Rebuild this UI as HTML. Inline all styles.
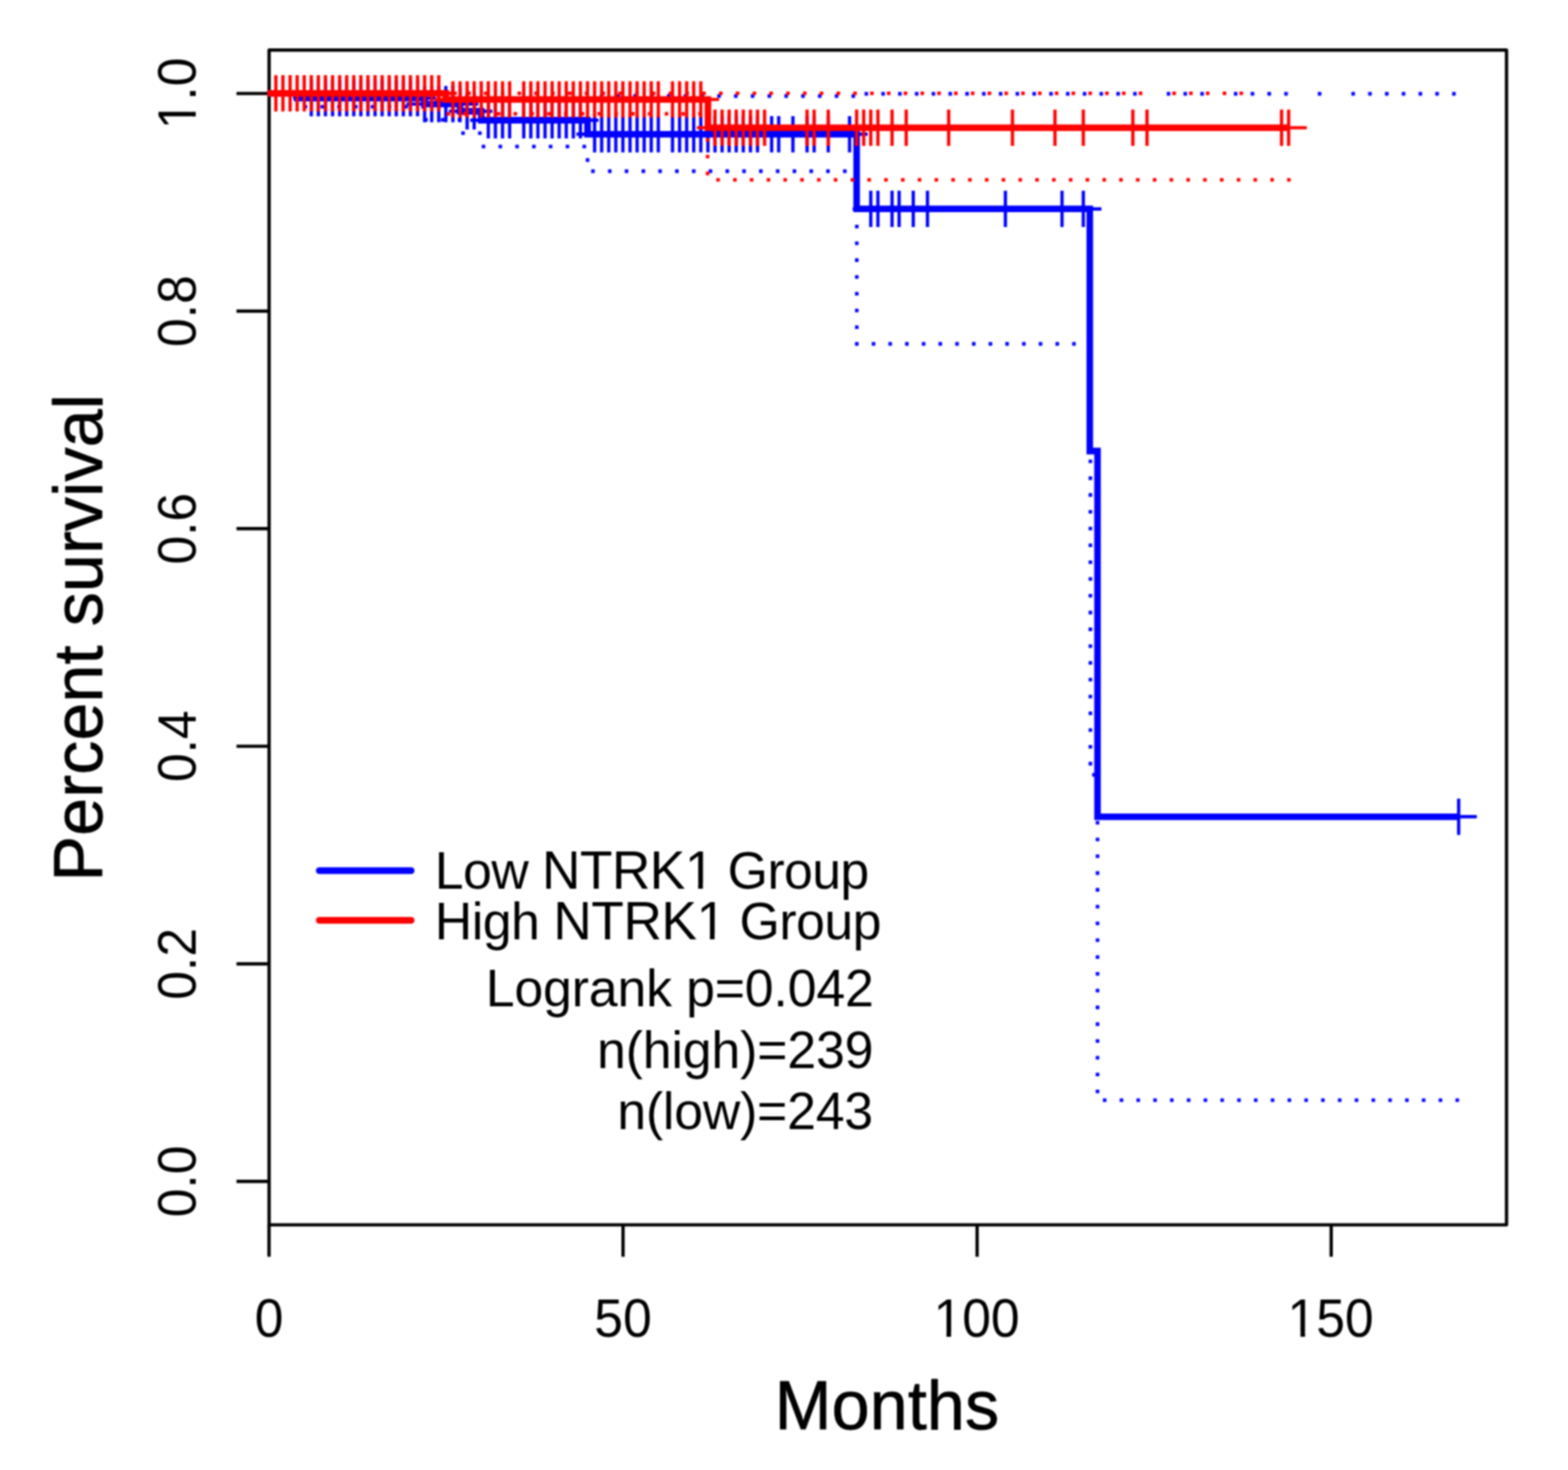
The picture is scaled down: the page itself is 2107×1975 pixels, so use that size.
<!DOCTYPE html>
<html lang="en"><head><meta charset="utf-8"><title>Kaplan-Meier survival: NTRK1</title>
<style>
html,body{margin:0;padding:0;background:#fff;}
body{width:2107px;height:1975px;overflow:hidden;}
svg{display:block;filter:blur(1.0px);}
text{font-family:"Liberation Sans",Arial,Helvetica,sans-serif;fill:#000;}
.t{font-size:73.1px;}
.g{font-size:69.6px;letter-spacing:-0.75px;}
.l{font-size:91.6px;letter-spacing:0.2px;stroke:#000;stroke-width:0.9px;stroke-linejoin:round;}
.c{font-size:103.0%;}
.ax{stroke:#000;stroke-width:4.4;fill:none;stroke-linecap:round;stroke-linejoin:round;}
.cv{fill:none;stroke-width:8.8;stroke-linejoin:miter;stroke-linecap:butt;}
.pl{fill:none;stroke-width:4.4;stroke-linecap:butt;}
.ci{fill:none;stroke-width:4.8;stroke-linecap:butt;}
.lg{fill:none;stroke-width:9;stroke-linecap:round;}
.b{stroke:#0000ff;}.r{stroke:#ff0000;}
</style></head><body>
<svg width="2107" height="1975" viewBox="0 0 2107 1975">
<rect x="-20" y="-20" width="2147" height="2015" fill="#fff"/>
<defs><clipPath id="pc"><rect x="359.4" y="65.0" width="1667.2" height="1582.8"/></clipPath></defs>
<g id="axes">
<rect class="ax" x="361.6" y="67.2" width="1662.8" height="1578.4"/>
<path class="ax" style="stroke-linecap:butt" d="M361.5 1645.6V1688.6M837.2 1645.6V1688.6M1313.0 1645.6V1688.6M1788.8 1645.6V1688.6M361.6 1587.3H317.8M361.6 1295.0H317.8M361.6 1002.6H317.8M361.6 710.3H317.8M361.6 418.0H317.8M361.6 125.6H317.8"/>
</g>
<g id="plot" clip-path="url(#pc)">
<path class="ci b" d="M408.0 143.3h4.8M430.6 143.3h4.8M453.1 143.3h4.8M475.7 143.3h4.8M498.2 143.3h4.8M520.8 143.3h4.8M543.4 143.3h4.8M565.9 143.3h4.8M569.9 161.0h4.8M592.5 161.0h4.8M615.0 161.0h4.8M619.8 178.8h4.8M642.4 178.8h4.8M647.3 196.8h4.8M669.9 196.8h4.8M692.4 196.8h4.8M715.0 196.8h4.8M737.5 196.8h4.8M760.1 196.8h4.8M782.7 196.8h4.8M794.4 230.0h4.8M817.0 230.0h4.8M839.5 230.0h4.8M862.1 230.0h4.8M884.6 230.0h4.8M907.2 230.0h4.8M929.8 230.0h4.8M952.3 230.0h4.8M974.9 230.0h4.8M997.4 230.0h4.8M1020.0 230.0h4.8M1042.6 230.0h4.8M1065.1 230.0h4.8M1087.7 230.0h4.8M1110.2 230.0h4.8M1132.8 230.0h4.8M1148.9 462.0h4.8M1171.4 462.0h4.8M1193.8 462.0h4.8M1216.2 462.0h4.8M1238.7 462.0h4.8M1261.1 462.0h4.8M1283.6 462.0h4.8M1306.1 462.0h4.8M1328.5 462.0h4.8M1350.9 462.0h4.8M1373.4 462.0h4.8M1395.8 462.0h4.8M1418.3 462.0h4.8M1440.7 462.0h4.8M1482.0 1478.1h4.8M1504.6 1478.1h4.8M1527.1 1478.1h4.8M1549.7 1478.1h4.8M1572.2 1478.1h4.8M1594.8 1478.1h4.8M1617.4 1478.1h4.8M1639.9 1478.1h4.8M1662.5 1478.1h4.8M1685.0 1478.1h4.8M1707.6 1478.1h4.8M1730.2 1478.1h4.8M1752.7 1478.1h4.8M1775.3 1478.1h4.8M1797.8 1478.1h4.8M1820.4 1478.1h4.8M1843.0 1478.1h4.8M1865.5 1478.1h4.8M1888.1 1478.1h4.8M1910.6 1478.1h4.8M1933.2 1478.1h4.8M1955.8 1478.1h4.8M805.8 129.0h4.8M828.4 129.0h4.8M851.0 129.0h4.8M873.5 129.0h4.8M896.1 129.0h4.8M918.6 129.0h4.8M941.2 129.0h4.8M963.8 129.0h4.8M986.3 129.0h4.8M1008.9 129.0h4.8M1031.4 129.0h4.8M1054.0 129.0h4.8M1076.6 129.0h4.8M1099.1 129.0h4.8M1121.7 129.0h4.8M1144.2 129.0h4.8M1161.7 126.0h4.8M1184.3 126.0h4.8M1206.8 126.0h4.8M1229.4 126.0h4.8M1251.9 126.0h4.8M1274.5 126.0h4.8M1297.1 126.0h4.8M1319.6 126.0h4.8M1342.2 126.0h4.8M1364.7 126.0h4.8M1387.3 126.0h4.8M1409.9 126.0h4.8M1432.4 126.0h4.8M1455.0 126.0h4.8M1477.5 126.0h4.8M1500.1 126.0h4.8M1522.7 126.0h4.8M1567.8 126.0h4.8M1590.3 126.0h4.8M1612.9 126.0h4.8M1658.0 126.0h4.8M1680.6 126.0h4.8M1703.1 126.0h4.8M1725.7 126.0h4.8M1770.8 126.0h4.8M1815.9 126.0h4.8M1838.5 126.0h4.8M1861.1 126.0h4.8M1883.6 126.0h4.8M1906.2 126.0h4.8M1928.7 126.0h4.8M1951.3 126.0h4.8M789.5 212.6v4.8M1151.3 234.3v4.8M1151.3 256.9v4.8M1151.3 279.4v4.8M1151.3 302.0v4.8M1151.3 324.5v4.8M1151.3 347.1v4.8M1151.3 369.7v4.8M1151.3 392.2v4.8M1151.3 414.8v4.8M1151.3 437.3v4.8M1465.2 482.2v4.8M1465.2 504.7v4.8M1465.2 527.3v4.8M1465.2 549.8v4.8M1465.2 572.4v4.8M1465.2 595.0v4.8M1465.2 617.5v4.8M1465.2 640.1v4.8M1465.2 662.6v4.8M1465.2 685.2v4.8M1465.2 707.8v4.8M1465.2 730.3v4.8M1465.2 752.9v4.8M1465.2 775.4v4.8M1465.2 798.0v4.8M1465.2 820.6v4.8M1465.2 843.1v4.8M1465.2 865.7v4.8M1465.2 888.2v4.8M1465.2 910.8v4.8M1465.2 933.4v4.8M1465.2 955.9v4.8M1465.2 978.5v4.8M1465.2 1001.0v4.8M1465.2 1023.6v4.8M1470.0 1038.6v4.8M1474.8 1102.9v4.8M1474.8 1125.5v4.8M1474.8 1148.0v4.8M1474.8 1170.6v4.8M1474.8 1193.1v4.8M1474.8 1215.7v4.8M1474.8 1238.3v4.8M1474.8 1260.8v4.8M1474.8 1283.4v4.8M1474.8 1305.9v4.8M1474.8 1328.5v4.8M1474.8 1351.1v4.8M1474.8 1373.6v4.8M1474.8 1396.2v4.8M1474.8 1418.7v4.8M1474.8 1441.3v4.8M1474.8 1463.9v4.8"/>
<path class="cv b" d="M359.4 125.4H399.3V131.8H570.6V139.8H618.2V149.5H646.7V161.5H789.5V180.3H1151.1V280.7H1464.4V606.0H1474.8V1097.3H1960.1"/>
<path class="pl b" d="M418.3 107.4v48.8M393.9 131.8h48.8M427.8 107.4v48.8M403.4 131.8h48.8M437.3 107.4v48.8M412.9 131.8h48.8M446.9 107.4v48.8M422.5 131.8h48.8M456.4 107.4v48.8M432.0 131.8h48.8M465.9 107.4v48.8M441.5 131.8h48.8M475.4 107.4v48.8M451.0 131.8h48.8M484.9 107.4v48.8M460.5 131.8h48.8M494.4 107.4v48.8M470.0 131.8h48.8M504.0 107.4v48.8M479.6 131.8h48.8M513.5 107.4v48.8M489.1 131.8h48.8M523.0 107.4v48.8M498.6 131.8h48.8M532.5 107.4v48.8M508.1 131.8h48.8M542.0 107.4v48.8M517.6 131.8h48.8M551.5 107.4v48.8M527.1 131.8h48.8M561.1 107.4v48.8M536.7 131.8h48.8M570.6 115.4v48.8M546.2 139.8h48.8M580.1 115.4v48.8M555.7 139.8h48.8M589.6 115.4v48.8M565.2 139.8h48.8M599.1 115.4v48.8M574.7 139.8h48.8M608.6 115.4v48.8M584.2 139.8h48.8M618.2 115.4v48.8M593.8 139.8h48.8M627.7 125.1v48.8M603.3 149.5h48.8M637.2 125.1v48.8M612.8 149.5h48.8M656.2 137.1v48.8M631.8 161.5h48.8M665.7 137.1v48.8M641.3 161.5h48.8M675.3 137.1v48.8M650.9 161.5h48.8M684.8 137.1v48.8M660.4 161.5h48.8M703.8 137.1v48.8M679.4 161.5h48.8M713.3 137.1v48.8M688.9 161.5h48.8M722.8 137.1v48.8M698.4 161.5h48.8M732.4 137.1v48.8M708.0 161.5h48.8M741.9 137.1v48.8M717.5 161.5h48.8M751.4 137.1v48.8M727.0 161.5h48.8M760.9 137.1v48.8M736.5 161.5h48.8M770.4 137.1v48.8M746.0 161.5h48.8M779.9 137.1v48.8M755.5 161.5h48.8M799.0 155.9v48.8M774.6 180.3h48.8M808.5 155.9v48.8M784.1 180.3h48.8M818.0 155.9v48.8M793.6 180.3h48.8M827.5 155.9v48.8M803.1 180.3h48.8M837.0 155.9v48.8M812.6 180.3h48.8M846.6 155.9v48.8M822.2 180.3h48.8M856.1 155.9v48.8M831.7 180.3h48.8M865.6 155.9v48.8M841.2 180.3h48.8M875.1 155.9v48.8M850.7 180.3h48.8M884.6 155.9v48.8M860.2 180.3h48.8M903.7 155.9v48.8M879.3 180.3h48.8M913.2 155.9v48.8M888.8 180.3h48.8M922.7 155.9v48.8M898.3 180.3h48.8M932.2 155.9v48.8M907.8 180.3h48.8M941.7 155.9v48.8M917.3 180.3h48.8M951.3 155.9v48.8M926.9 180.3h48.8M960.8 155.9v48.8M936.4 180.3h48.8M970.3 155.9v48.8M945.9 180.3h48.8M979.8 155.9v48.8M955.4 180.3h48.8M989.3 155.9v48.8M964.9 180.3h48.8M998.8 155.9v48.8M974.4 180.3h48.8M1008.4 155.9v48.8M984.0 180.3h48.8M1017.9 155.9v48.8M993.5 180.3h48.8M1036.9 155.9v48.8M1012.5 180.3h48.8M1046.4 155.9v48.8M1022.0 180.3h48.8M1065.5 155.9v48.8M1041.1 180.3h48.8M1084.5 155.9v48.8M1060.1 180.3h48.8M1094.0 155.9v48.8M1069.6 180.3h48.8M1113.0 155.9v48.8M1088.6 180.3h48.8M1141.6 155.9v48.8M1117.2 180.3h48.8M1170.1 256.3v48.8M1145.7 280.7h48.8M1179.7 256.3v48.8M1155.3 280.7h48.8M1198.7 256.3v48.8M1174.3 280.7h48.8M1208.2 256.3v48.8M1183.8 280.7h48.8M1227.2 256.3v48.8M1202.8 280.7h48.8M1246.3 256.3v48.8M1221.9 280.7h48.8M1351.0 256.3v48.8M1326.6 280.7h48.8M1427.1 256.3v48.8M1402.7 280.7h48.8M1455.7 256.3v48.8M1431.3 280.7h48.8M1960.1 1072.9v48.8M1935.7 1097.3h48.8"/>
<path class="ci r" d="M605.2 125.4h4.8M627.8 125.4h4.8M650.3 125.4h4.8M672.9 125.4h4.8M695.4 125.4h4.8M718.0 125.4h4.8M740.6 125.4h4.8M763.1 125.4h4.8M785.7 125.4h4.8M808.2 125.4h4.8M830.8 125.4h4.8M853.4 125.4h4.8M875.9 125.4h4.8M898.5 125.4h4.8M921.0 125.4h4.8M943.6 125.4h4.8M966.2 125.4h4.8M988.7 125.4h4.8M1011.3 125.4h4.8M1033.8 125.4h4.8M1056.4 125.4h4.8M1079.0 125.4h4.8M1101.5 125.4h4.8M1124.1 125.4h4.8M1146.6 125.4h4.8M1169.2 125.4h4.8M1191.8 125.4h4.8M1214.3 125.4h4.8M1236.9 125.4h4.8M1259.4 125.4h4.8M1282.0 125.4h4.8M1304.6 125.4h4.8M1327.1 125.4h4.8M1349.7 125.4h4.8M1372.2 125.4h4.8M1394.8 125.4h4.8M1417.4 125.4h4.8M1439.9 125.4h4.8M1462.5 125.4h4.8M1485.0 125.4h4.8M1507.6 125.4h4.8M1530.2 125.4h4.8M1575.3 125.4h4.8M1597.8 125.4h4.8M1620.4 125.4h4.8M1643.0 125.4h4.8M1665.5 125.4h4.8M938.3 152.8h4.8M915.7 152.8h4.8M893.2 152.8h4.8M870.6 152.8h4.8M848.1 152.8h4.8M825.5 152.8h4.8M802.9 152.8h4.8M780.4 152.8h4.8M757.8 152.8h4.8M735.3 152.8h4.8M712.7 152.8h4.8M690.1 152.8h4.8M667.6 152.8h4.8M645.0 152.8h4.8M622.5 152.8h4.8M599.9 152.8h4.8M962.5 241.6h4.8M985.1 241.6h4.8M1007.6 241.6h4.8M1030.2 241.6h4.8M1052.7 241.6h4.8M1075.3 241.6h4.8M1097.9 241.6h4.8M1120.4 241.6h4.8M1143.0 241.6h4.8M1165.5 241.6h4.8M1188.1 241.6h4.8M1210.7 241.6h4.8M1233.2 241.6h4.8M1255.8 241.6h4.8M1278.3 241.6h4.8M1300.9 241.6h4.8M1323.5 241.6h4.8M1346.0 241.6h4.8M1368.6 241.6h4.8M1391.1 241.6h4.8M1413.7 241.6h4.8M1436.3 241.6h4.8M1458.8 241.6h4.8M1481.4 241.6h4.8M1503.9 241.6h4.8M1526.5 241.6h4.8M1549.1 241.6h4.8M1571.6 241.6h4.8M1594.2 241.6h4.8M1616.7 241.6h4.8M1639.3 241.6h4.8M1661.9 241.6h4.8M1684.4 241.6h4.8M1707.0 241.6h4.8M1729.5 241.6h4.8M950.8 162.9v4.8M950.8 185.5v4.8M950.8 208.0v4.8M950.8 230.6v4.8"/>
<path class="cv r" d="M359.4 125.4H599.1V133.6H951.3V171.6H1731.6"/>
<path class="pl r" d="M370.7 101.0v48.8M346.3 125.4h48.8M380.2 101.0v48.8M355.8 125.4h48.8M389.8 101.0v48.8M365.4 125.4h48.8M399.3 101.0v48.8M374.9 125.4h48.8M408.8 101.0v48.8M384.4 125.4h48.8M418.3 101.0v48.8M393.9 125.4h48.8M427.8 101.0v48.8M403.4 125.4h48.8M437.3 101.0v48.8M412.9 125.4h48.8M446.9 101.0v48.8M422.5 125.4h48.8M456.4 101.0v48.8M432.0 125.4h48.8M465.9 101.0v48.8M441.5 125.4h48.8M475.4 101.0v48.8M451.0 125.4h48.8M484.9 101.0v48.8M460.5 125.4h48.8M494.4 101.0v48.8M470.0 125.4h48.8M504.0 101.0v48.8M479.6 125.4h48.8M513.5 101.0v48.8M489.1 125.4h48.8M523.0 101.0v48.8M498.6 125.4h48.8M532.5 101.0v48.8M508.1 125.4h48.8M542.0 101.0v48.8M517.6 125.4h48.8M551.5 101.0v48.8M527.1 125.4h48.8M561.1 101.0v48.8M536.7 125.4h48.8M570.6 101.0v48.8M546.2 125.4h48.8M580.1 101.0v48.8M555.7 125.4h48.8M589.6 101.0v48.8M565.2 125.4h48.8M608.6 109.2v48.8M584.2 133.6h48.8M618.2 109.2v48.8M593.8 133.6h48.8M627.7 109.2v48.8M603.3 133.6h48.8M637.2 109.2v48.8M612.8 133.6h48.8M646.7 109.2v48.8M622.3 133.6h48.8M656.2 109.2v48.8M631.8 133.6h48.8M665.7 109.2v48.8M641.3 133.6h48.8M675.3 109.2v48.8M650.9 133.6h48.8M684.8 109.2v48.8M660.4 133.6h48.8M703.8 109.2v48.8M679.4 133.6h48.8M713.3 109.2v48.8M688.9 133.6h48.8M722.8 109.2v48.8M698.4 133.6h48.8M732.4 109.2v48.8M708.0 133.6h48.8M741.9 109.2v48.8M717.5 133.6h48.8M751.4 109.2v48.8M727.0 133.6h48.8M760.9 109.2v48.8M736.5 133.6h48.8M770.4 109.2v48.8M746.0 133.6h48.8M779.9 109.2v48.8M755.5 133.6h48.8M789.5 109.2v48.8M765.1 133.6h48.8M799.0 109.2v48.8M774.6 133.6h48.8M808.5 109.2v48.8M784.1 133.6h48.8M818.0 109.2v48.8M793.6 133.6h48.8M827.5 109.2v48.8M803.1 133.6h48.8M837.0 109.2v48.8M812.6 133.6h48.8M846.6 109.2v48.8M822.2 133.6h48.8M856.1 109.2v48.8M831.7 133.6h48.8M865.6 109.2v48.8M841.2 133.6h48.8M875.1 109.2v48.8M850.7 133.6h48.8M884.6 109.2v48.8M860.2 133.6h48.8M903.7 109.2v48.8M879.3 133.6h48.8M913.2 109.2v48.8M888.8 133.6h48.8M922.7 109.2v48.8M898.3 133.6h48.8M932.2 109.2v48.8M907.8 133.6h48.8M941.7 109.2v48.8M917.3 133.6h48.8M960.8 147.2v48.8M936.4 171.6h48.8M970.3 147.2v48.8M945.9 171.6h48.8M979.8 147.2v48.8M955.4 171.6h48.8M989.3 147.2v48.8M964.9 171.6h48.8M998.8 147.2v48.8M974.4 171.6h48.8M1008.4 147.2v48.8M984.0 171.6h48.8M1017.9 147.2v48.8M993.5 171.6h48.8M1027.4 147.2v48.8M1003.0 171.6h48.8M1084.5 147.2v48.8M1060.1 171.6h48.8M1094.0 147.2v48.8M1069.6 171.6h48.8M1113.0 147.2v48.8M1088.6 171.6h48.8M1151.1 147.2v48.8M1126.7 171.6h48.8M1160.6 147.2v48.8M1136.2 171.6h48.8M1170.1 147.2v48.8M1145.7 171.6h48.8M1179.7 147.2v48.8M1155.3 171.6h48.8M1198.7 147.2v48.8M1174.3 171.6h48.8M1217.7 147.2v48.8M1193.3 171.6h48.8M1274.8 147.2v48.8M1250.4 171.6h48.8M1360.5 147.2v48.8M1336.1 171.6h48.8M1417.6 147.2v48.8M1393.2 171.6h48.8M1455.7 147.2v48.8M1431.3 171.6h48.8M1522.3 147.2v48.8M1497.9 171.6h48.8M1541.3 147.2v48.8M1516.9 171.6h48.8M1722.1 147.2v48.8M1697.7 171.6h48.8M1731.6 147.2v48.8M1707.2 171.6h48.8"/>
</g>
<g id="labels">
<text class="t" transform="translate(361.5 1796.3) scale(0.95 1)" text-anchor="middle">0</text>
<text class="t" transform="translate(837.2 1796.3) scale(0.95 1)" text-anchor="middle">50</text>
<text class="t" transform="translate(1312.3 1796.3) scale(0.95 1)" text-anchor="middle">100</text>
<text class="t" transform="translate(1788.0 1796.3) scale(0.95 1)" text-anchor="middle">150</text>
<text class="t" transform="translate(262.8 1587.3) rotate(-90) scale(0.95 1)" text-anchor="middle">0.0</text>
<text class="t" transform="translate(262.8 1295.0) rotate(-90) scale(0.95 1)" text-anchor="middle">0.2</text>
<text class="t" transform="translate(262.8 1002.6) rotate(-90) scale(0.95 1)" text-anchor="middle">0.4</text>
<text class="t" transform="translate(262.8 710.3) rotate(-90) scale(0.95 1)" text-anchor="middle">0.6</text>
<text class="t" transform="translate(262.8 418.0) rotate(-90) scale(0.95 1)" text-anchor="middle">0.8</text>
<text class="t" transform="translate(262.8 125.6) rotate(-90) scale(0.95 1)" text-anchor="middle">1.0</text>
<text class="l" transform="translate(1191.9 1919.8) scale(1 1.02)" text-anchor="middle">Months</text>
<text class="l" transform="translate(136.8 856.8) rotate(-90) scale(1 1.02)" text-anchor="middle">Percent survival</text>
</g>
<g id="legend">
<path class="lg b" d="M429 1169.7H552.5"/>
<path class="lg r" d="M429 1236.5H552.5"/>
<text class="g" style="letter-spacing:-0.78px" transform="translate(584.3 1194.2) scale(1 1.02)">Low <tspan class="c">NTRK1</tspan> Group</text>
<text class="g" style="letter-spacing:-0.66px" transform="translate(584.3 1261.8) scale(1 1.02)">High <tspan class="c">NTRK1</tspan> Group</text>
<text class="g" style="letter-spacing:-0.2px" transform="translate(1174.0 1351.7) scale(1 1.02)" text-anchor="end">Logrank p=0.042</text>
<text class="g" style="letter-spacing:-0.18px" transform="translate(1173.5 1435.2) scale(1 1.02)" text-anchor="end">n(high)=239</text>
<text class="g" style="letter-spacing:-0.27px" transform="translate(1173.0 1517.4) scale(1 1.02)" text-anchor="end">n(low)=243</text>
</g>
<g id="glyphfix" fill="#fff">
<g transform="translate(1312.3 1796.3) scale(0.95 1)"><rect x="-56.91" y="-7.06" width="14.31" height="8.46"/><rect x="-36.13" y="-7.06" width="13.74" height="8.46"/></g>
<g transform="translate(1788.0 1796.3) scale(0.95 1)"><rect x="-56.91" y="-7.06" width="14.31" height="8.46"/><rect x="-36.13" y="-7.06" width="13.74" height="8.46"/></g>
<g transform="translate(262.8 125.6) rotate(-90) scale(0.95 1)"><rect x="-46.73" y="-7.06" width="14.31" height="8.46"/><rect x="-25.96" y="-7.06" width="13.74" height="8.46"/></g>
<g transform="translate(584.3 1194.2) scale(1 1.02)"><rect x="339.80" y="-6.96" width="14.07" height="8.36"/><rect x="360.21" y="-6.96" width="13.51" height="8.36"/></g>
<g transform="translate(584.3 1261.8) scale(1 1.02)"><rect x="355.57" y="-6.96" width="14.07" height="8.36"/><rect x="375.97" y="-6.96" width="13.51" height="8.36"/></g>
</g>
</svg>
</body></html>
